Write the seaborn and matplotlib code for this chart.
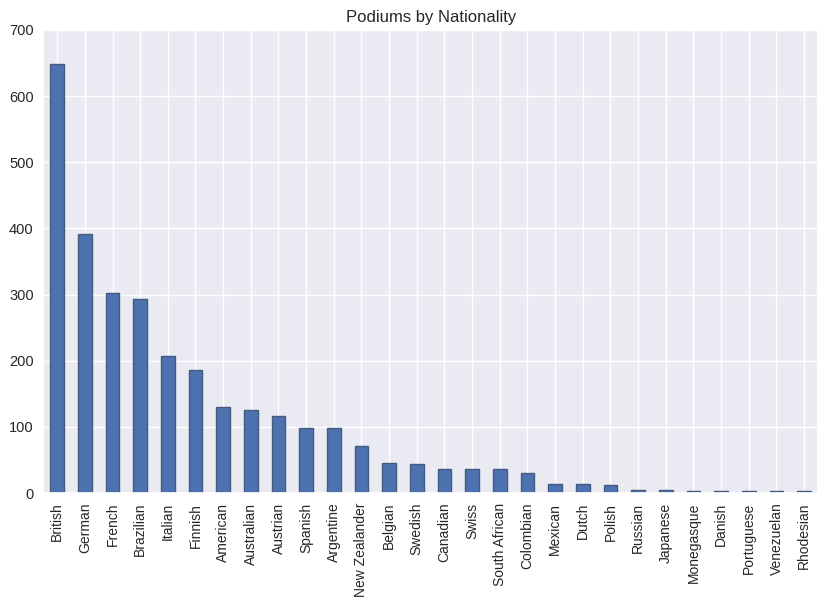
#!/usr/bin/env python3
"""Podiums by nationality bar chart"""

import matplotlib
matplotlib.use('Agg')
import matplotlib.pyplot as plt
import pandas as pd
import seaborn as sns

nationalities = ['British', 'German', 'French', 'Brazilian', 'Italian', 'Finnish',
                 'American', 'Australian', 'Austrian', 'Spanish', 'Argentine',
                 'New Zealander', 'Belgian', 'Swedish', 'Canadian', 'Swiss',
                 'South African', 'Colombian', 'Mexican', 'Dutch', 'Polish',
                 'Russian', 'Japanese', 'Monegasque', 'Danish', 'Portuguese',
                 'Venezuelan', 'Rhodesian']
podiums = [648, 391, 302, 293, 207, 186, 130, 125, 117, 99, 98, 71, 45, 44,
           37, 36, 36, 30, 14, 14, 12, 4, 4, 3, 3, 3, 3, 3]

sns.set_theme(style='darkgrid')
plt.rcParams['font.family'] = ['Liberation Sans', 'DejaVu Sans']

df = pd.DataFrame({'nationality': nationalities, 'podiums': podiums})

fig, ax = plt.subplots(figsize=(8.27, 6.08), dpi=100)
sns.barplot(data=df, x='nationality', y='podiums', ax=ax, color='#4c72b0',
            saturation=1, width=0.5, edgecolor='#46597f', linewidth=1.0)
ax.set_title('Podiums by Nationality', fontsize=12, color='#262626', pad=6)
ax.set_xlabel('')
ax.set_ylabel('')
ax.set_ylim(0, 700)
ax.set_xlim(-0.5, len(nationalities) - 0.5)

# barplot switches the category grid off
ax.grid(True, axis='both', color='white', linewidth=1.0)
ax.set_axisbelow(True)

ax.tick_params(axis='x', labelrotation=90, labelsize=10, length=0, pad=7)
ax.tick_params(axis='y', labelsize=10.5, length=0, pad=7)

fig.subplots_adjust(left=0.0524, right=0.9891, top=0.9507, bottom=0.1891)
plt.savefig('out.png', dpi=100)
